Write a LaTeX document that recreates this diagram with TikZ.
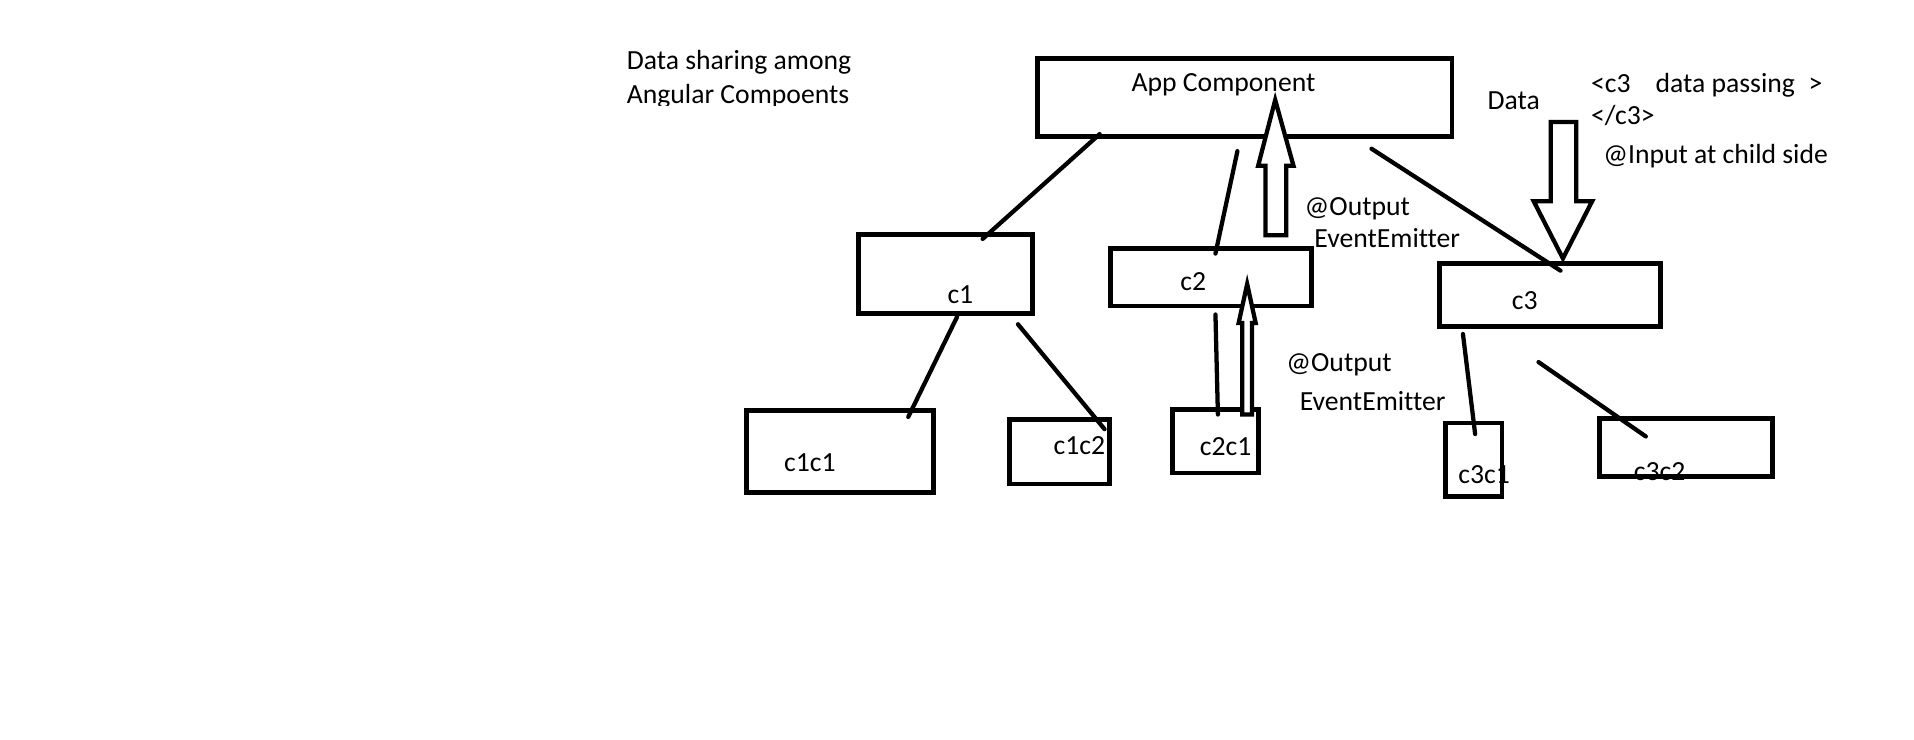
\documentclass[tikz,border=0pt]{standalone}
\usepackage{fontspec}
\setmainfont[Ligatures=NoCommon]{Carlito}
\begin{document}
\begin{tikzpicture}[x=1pt,y=-1pt,
  box/.style={draw=black,line width=4pt,inner sep=0pt,minimum width=#1},
  lbl/.style={anchor=base west,inner sep=0pt,font=\fontsize{22.7}{28}\selectfont},
  link/.style={draw=black,line width=3.5pt,line cap=round},
  harrow/.style={draw=black,line width=3.5pt,line join=miter,fill=white}]
\useasboundingbox[fill=white] (0,0) rectangle (1570,607);
% texts
\node[lbl] (t1) at (514,57) {Data sharing among};
\begin{scope}
\clip (500,60) rectangle (760,86.5);
\node[lbl] (t2) at (514,85) {Angular Compoents};
\end{scope}
\node[lbl] (tapp) at (928,75) {App Component};
\node[lbl] (out1) at (1070,177) {@Output};
\node[lbl] (ee1) at (1078,203) {EventEmitter};
\node[lbl] (tc1) at (777,249) {c1};
\node[lbl] (tc2) at (968,238) {c2};
\node[lbl] (tc3) at (1240,254) {c3};
\node[lbl] (data) at (1220,90) {Data};
\node[lbl] (dp) at (1305,76) {<c3\hspace{0.9em}data passing\hspace{0.5em}>};
\node[lbl] (dpc) at (1305,102) {</c3>};
\node[lbl] (inp) at (1315,134) {@Input at child side};
\node[lbl] (out2) at (1055,305) {@Output};
\node[lbl] (ee2) at (1066,337) {EventEmitter};
\node[lbl] (tc1c1) at (643,387) {c1c1};
\node[lbl] (tc1c2) at (864,373) {c1c2};
\node[lbl] (tc2c1) at (984,374) {c2c1};
\node[lbl] (tc3c1) at (1196,397) {c3c1};
\node[lbl] (tc3c2) at (1340,394) {c3c2};
% boxes
\node[box=340pt,minimum height=64pt] (app) at (1021,80) {};
\node[box=143pt,minimum height=65pt] (c1) at (775.5,224.5) {};
\node[box=165pt,minimum height=47pt] (c2) at (993.5,227.5) {};
\node[box=181pt,minimum height=52pt] (c3) at (1271.5,242) {};
\node[box=154pt,minimum height=67pt] (c1c1) at (689,370.5) {};
\node[box=82pt,minimum height=53pt] (c1c2) at (869,370.5) {};
\node[box=70pt,minimum height=52pt] (c2c1) at (997,362) {};
\node[box=46pt,minimum height=60pt] (c3c1) at (1209,377) {};
\node[box=142pt,minimum height=48pt] (c3c2) at (1383,367) {};
% links
\draw[link] ([shift={(53,-4)}]app.south west) -- ([shift={(104,6)}]c1.north west);
\draw[link] ([shift={(166,10)}]app.south west) -- ([shift={(88,6)}]c2.north west);
\draw[link] ([shift={(276,8)}]app.south west) -- ([shift={(101,8)}]c3.north west);
\draw[link] ([shift={(83,1)}]c1.south west) -- ([shift={(135,7)}]c1c1.north west);
\draw[link] ([shift={(133,7)}]c1.south west) -- ([shift={(80,10)}]c1c2.north west);
\draw[link] ([shift={(88,5)}]c2.south west) -- ([shift={(39,6)}]c2c1.north west);
\draw[link] ([shift={(21,4)}]c3.south west) -- ([shift={(26,11)}]c3c1.north west);
\draw[link] ([shift={(83,27)}]c3.south west) -- ([shift={(40,17)}]c3c2.north west);
% hollow arrows
\draw[harrow] (1038,193) -- (1038,136) -- (1032,136) -- (1046,82)
  -- (1061,136) -- (1055,136) -- (1055,193) -- cycle;
\draw[harrow] (1019,340) -- (1019,265) -- (1016,265) -- (1023,233)
  -- (1030,265) -- (1027,265) -- (1027,340) -- cycle;
\draw[harrow] (1272,100) -- (1293,100) -- (1293,165) -- (1306,165) -- (1282,212)
  -- (1258,165) -- (1272,165) -- cycle;
\end{tikzpicture}
\end{document}
